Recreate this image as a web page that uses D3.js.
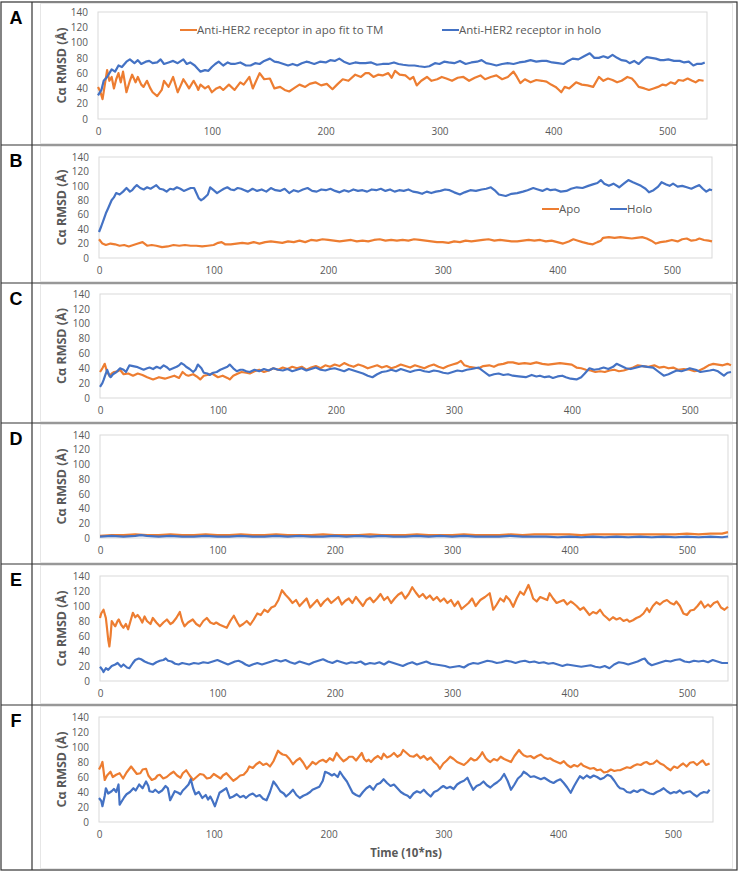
<!DOCTYPE html>
<html>
<head>
<meta charset="utf-8">
<script src="https://cdn.jsdelivr.net/npm/d3@7"></script>
<style>
  body { margin: 0; background: #fff; }
  text { font-family: "Open Sans", "Liberation Sans", sans-serif; }
</style>
</head>
<body>
<script>
const width = 739;
const height = 872;

// time ticks and value ticks shared by all panels
const timeTicks = [0, 100, 200, 300, 400, 500];
const rmsdTicks = [0, 20, 40, 60, 80, 100, 120, 140];

// [time (10*ns), Ca RMSD]
const aApo = [[0,42],[2,36],[4,26],[6,45],[8,64],[10,50],[12,55],[14,40],[16,52],[18,60],[20,48],[22,62],[25,35],[28,50],[30,58],[33,48],[35,55],[38,45],[40,42],[43,50],[46,40],[48,35],[52,30],[56,38],[58,50],[62,42],[66,55],[70,35],[73,45],[75,52],[78,45],[80,40],[84,50],[87,42],[88,38],[90,45],[94,40],[97,43],[100,35],[104,40],[107,42],[110,38],[115,45],[120,38],[125,48],[128,45],[133,55],[136,40],[142,60],[146,52],[151,53],[155,40],[160,42],[164,38],[168,36],[172,40],[177,45],[182,42],[186,46],[191,48],[196,44],[201,46],[206,39],[210,45],[215,52],[220,50],[226,58],[231,55],[235,60],[238,60],[242,55],[246,58],[250,57],[255,60],[258,54],[261,63],[265,58],[270,57],[274,52],[277,55],[280,44],[284,50],[289,55],[293,50],[298,52],[302,55],[306,53],[311,50],[316,54],[321,55],[326,50],[331,54],[336,57],[340,52],[345,55],[350,57],[355,52],[360,55],[365,62],[368,55],[371,47],[375,52],[380,48],[385,51],[390,50],[394,49],[398,45],[402,42],[405,38],[407,35],[410,42],[414,40],[417,44],[420,48],[425,45],[430,44],[435,42],[440,55],[444,50],[448,53],[452,51],[456,48],[460,50],[465,55],[469,53],[472,48],[475,42],[480,40],[484,38],[488,40],[492,42],[496,45],[499,44],[503,48],[507,46],[510,51],[514,50],[518,53],[522,50],[525,48],[528,51],[532,50]];
const aHolo = [[0,31],[3,38],[5,50],[8,55],[12,65],[15,62],[18,70],[21,68],[25,75],[28,78],[32,73],[35,77],[38,72],[42,75],[45,76],[48,73],[52,74],[55,78],[58,72],[62,74],[66,76],[70,73],[75,78],[78,72],[81,74],[85,70],[88,65],[90,62],[94,64],[97,63],[100,68],[103,72],[106,75],[110,70],[114,74],[117,72],[120,72],[125,74],[130,70],[134,70],[138,73],[142,72],[146,76],[151,79],[155,75],[159,74],[163,72],[167,70],[171,72],[175,70],[179,73],[183,75],[186,74],[190,72],[195,75],[200,74],[204,77],[208,76],[212,79],[216,75],[221,72],[226,74],[230,73],[235,73],[240,74],[245,71],[250,72],[255,72],[260,74],[264,72],[268,71],[273,70],[278,70],[282,69],[287,68],[291,69],[296,73],[300,72],[304,75],[308,74],[313,73],[318,76],[323,72],[328,74],[333,75],[337,77],[341,73],[345,72],[350,70],[355,72],[360,73],[365,72],[370,74],[375,75],[380,77],[385,75],[390,76],[394,76],[399,74],[404,73],[409,72],[413,76],[417,79],[422,78],[427,82],[432,86],[436,80],[440,80],[444,82],[448,80],[452,84],[456,80],[460,77],[464,76],[467,73],[471,76],[475,72],[479,78],[482,81],[486,80],[490,79],[494,77],[497,77],[501,78],[506,76],[511,76],[515,74],[519,75],[523,70],[526,72],[530,72],[533,74]];

const bApo = [[0,26],[3,20],[6,18],[10,20],[14,19],[18,17],[22,18],[26,16],[30,18],[34,20],[38,22],[42,17],[46,18],[50,17],[55,15],[60,16],[65,18],[70,17],[75,18],[80,17],[85,17],[90,16],[95,17],[100,18],[104,21],[107,22],[110,19],[115,19],[120,20],[125,21],[130,20],[135,22],[140,20],[145,22],[150,23],[155,22],[160,21],[165,23],[170,22],[175,24],[180,22],[185,25],[190,24],[195,26],[200,25],[205,24],[210,23],[215,24],[220,25],[225,23],[230,24],[235,23],[240,25],[245,26],[250,24],[255,25],[260,24],[265,25],[270,24],[275,26],[280,25],[285,24],[290,23],[295,22],[300,22],[305,21],[310,23],[315,22],[320,24],[325,23],[330,24],[335,25],[340,26],[345,24],[350,25],[355,24],[360,23],[365,23],[370,24],[375,25],[380,24],[385,25],[390,23],[395,24],[400,22],[405,20],[410,23],[414,26],[418,24],[422,22],[427,20],[431,19],[435,22],[438,24],[440,28],[445,29],[450,28],[455,29],[460,28],[465,27],[469,28],[474,29],[478,27],[482,24],[486,20],[490,22],[495,23],[500,25],[505,23],[509,26],[513,27],[517,24],[521,25],[524,27],[528,25],[532,24],[535,23]];
const bHolo = [[0,36],[2,44],[4,53],[6,62],[8,69],[11,80],[13,84],[15,90],[18,88],[21,92],[24,97],[27,92],[29,94],[31,98],[33,101],[36,97],[39,95],[42,98],[45,96],[48,99],[50,101],[53,96],[56,95],[59,92],[62,96],[65,95],[68,98],[71,96],[74,93],[77,95],[80,97],[83,97],[85,90],[87,83],[89,80],[91,82],[93,85],[95,88],[97,98],[100,94],[103,90],[106,93],[109,96],[112,98],[115,95],[118,94],[121,97],[124,96],[127,94],[130,92],[134,96],[138,93],[142,95],[146,92],[150,97],[154,94],[158,93],[162,96],[166,90],[170,94],[174,92],[178,95],[182,97],[186,93],[190,92],[194,95],[198,94],[202,96],[206,93],[210,91],[214,94],[218,92],[222,95],[226,93],[230,94],[234,92],[238,95],[242,94],[246,96],[250,93],[254,95],[258,92],[262,94],[266,93],[270,95],[274,92],[278,91],[282,89],[286,92],[290,90],[294,92],[298,93],[302,95],[306,94],[310,91],[315,88],[319,91],[324,94],[329,93],[334,95],[338,96],[342,98],[346,93],[349,88],[352,87],[355,86],[360,89],[365,90],[370,92],[374,94],[379,97],[383,95],[387,93],[391,96],[394,94],[398,95],[403,92],[408,93],[412,96],[417,98],[422,97],[427,100],[431,102],[435,104],[438,108],[441,103],[445,100],[449,103],[454,98],[458,103],[462,108],[466,105],[469,103],[473,100],[477,96],[480,91],[484,94],[488,99],[491,105],[495,102],[498,100],[501,103],[505,99],[509,100],[513,98],[517,96],[521,99],[524,101],[527,96],[530,92],[533,95],[535,94]];

const cApo = [[0,35],[2,40],[4,46],[6,35],[8,30],[10,33],[12,35],[15,36],[17,38],[20,32],[24,33],[28,30],[32,33],[36,31],[40,28],[45,25],[50,28],[55,26],[59,28],[63,30],[67,27],[70,35],[73,31],[75,30],[79,32],[82,29],[85,25],[88,30],[91,31],[95,33],[100,28],[104,30],[108,27],[110,25],[113,30],[117,33],[120,35],[124,34],[127,33],[131,36],[135,38],[139,35],[143,37],[147,40],[151,38],[155,41],[159,39],[163,42],[167,40],[171,42],[175,38],[179,41],[183,43],[187,40],[191,44],[195,42],[199,45],[203,43],[207,47],[211,44],[215,42],[219,45],[223,43],[227,40],[231,42],[235,44],[239,41],[243,43],[247,40],[251,42],[255,45],[259,43],[263,41],[267,44],[271,42],[275,40],[279,43],[283,45],[287,42],[291,40],[295,43],[299,45],[303,47],[306,50],[309,44],[313,42],[317,41],[321,40],[325,43],[330,44],[334,42],[338,45],[342,46],[346,48],[350,48],[355,46],[360,47],[365,46],[370,48],[375,46],[380,45],[385,46],[390,47],[395,46],[400,45],[404,41],[408,40],[412,38],[416,37],[420,35],[424,36],[428,35],[432,37],[436,38],[440,36],[444,37],[448,39],[452,41],[456,44],[460,43],[465,42],[470,44],[474,41],[478,42],[482,40],[486,41],[490,38],[495,39],[500,38],[504,36],[508,37],[512,40],[516,44],[520,46],[524,45],[528,44],[532,46],[535,44]];
const cHolo = [[0,15],[2,20],[3,24],[5,33],[6,38],[8,30],[9,28],[11,32],[14,35],[17,40],[20,38],[22,35],[25,44],[28,43],[31,42],[34,40],[37,38],[40,40],[42,41],[45,39],[48,42],[51,40],[54,44],[57,41],[59,38],[62,40],[65,42],[67,44],[69,47],[71,45],[73,42],[76,39],[79,35],[81,38],[83,45],[86,40],[88,34],[91,33],[93,31],[96,34],[99,35],[102,38],[105,40],[108,42],[110,45],[113,40],[116,36],[119,38],[121,38],[124,36],[127,35],[131,38],[135,36],[139,39],[143,37],[147,40],[151,38],[155,37],[159,39],[163,36],[167,38],[171,40],[175,37],[179,39],[183,41],[187,38],[191,37],[195,39],[199,40],[203,38],[207,36],[211,39],[215,37],[219,35],[223,33],[227,30],[231,28],[235,32],[239,35],[243,36],[247,38],[251,36],[255,39],[259,37],[263,35],[267,37],[271,38],[275,36],[279,35],[283,37],[287,36],[291,34],[295,33],[299,35],[303,37],[307,36],[311,38],[315,39],[318,40],[321,41],[325,36],[330,30],[334,32],[338,33],[342,31],[346,32],[350,30],[355,29],[361,28],[366,31],[370,29],[373,30],[377,28],[381,29],[384,27],[388,29],[392,30],[395,28],[399,26],[404,25],[408,28],[411,33],[415,40],[419,38],[423,39],[427,41],[431,39],[435,42],[438,46],[442,43],[446,40],[450,39],[455,41],[460,43],[464,42],[469,41],[473,36],[478,30],[482,32],[486,35],[489,37],[493,36],[497,38],[500,40],[505,38],[509,35],[513,36],[517,37],[520,38],[524,36],[529,30],[532,34],[535,35]];

const dApo = [[0,3],[10,4],[20,4],[30,5],[40,4],[50,4],[60,5],[70,4],[80,4],[90,5],[100,4],[110,4],[120,5],[130,4],[140,4],[150,5],[160,4],[170,4],[180,4],[190,5],[200,4],[210,4],[220,4],[230,5],[240,4],[250,4],[260,4],[270,5],[280,4],[290,4],[300,4],[310,5],[320,4],[330,4],[340,4],[350,5],[360,4],[370,5],[380,5],[390,5],[400,5],[410,4],[420,5],[430,5],[440,5],[450,5],[460,5],[470,5],[480,5],[490,5],[500,6],[510,5],[520,6],[530,6],[535,8]];
const dHolo = [[0,2],[10,3],[20,2],[30,3],[35,4],[40,3],[50,2],[60,3],[70,2],[80,2],[90,3],[100,2],[110,2],[120,3],[130,2],[140,2],[150,3],[160,2],[170,3],[180,2],[190,2],[200,3],[210,2],[220,3],[230,2],[240,3],[250,2],[260,2],[270,3],[280,2],[290,3],[300,2],[310,3],[320,2],[330,2],[340,2],[350,3],[360,2],[370,2],[380,2],[390,1],[400,2],[410,1],[420,2],[430,1],[440,2],[450,1],[460,2],[470,1],[480,2],[490,1],[500,2],[510,1],[520,2],[530,1],[535,2]];

const eApo = [[0,84],[1,90],[3,95],[5,84],[6,70],[7,55],[8,46],[9,60],[10,80],[12,75],[13,73],[15,80],[16,82],[18,75],[20,71],[22,76],[24,69],[26,80],[28,91],[30,85],[32,88],[34,84],[36,78],[38,86],[40,80],[43,76],[45,84],[48,78],[51,73],[54,78],[57,82],[60,76],[62,78],[65,84],[68,92],[70,80],[72,73],[75,78],[79,82],[82,76],[85,73],[88,80],[91,84],[94,78],[97,76],[99,78],[102,75],[105,73],[108,71],[111,80],[114,87],[117,78],[119,73],[122,76],[125,80],[128,75],[131,82],[134,90],[137,88],[140,95],[143,92],[146,98],[149,100],[152,108],[155,121],[158,115],[161,110],[164,104],[167,108],[170,100],[173,105],[176,110],[179,98],[182,103],[185,108],[188,100],[191,106],[194,110],[197,104],[200,108],[203,112],[206,102],[209,107],[212,110],[215,104],[218,112],[221,106],[224,100],[227,108],[230,111],[233,105],[236,110],[239,116],[242,108],[245,112],[248,104],[251,110],[254,115],[257,118],[260,110],[263,116],[266,125],[269,118],[272,112],[275,116],[278,110],[281,114],[284,108],[287,112],[290,106],[293,110],[296,104],[299,108],[302,100],[305,106],[308,96],[311,100],[314,104],[317,110],[320,100],[324,108],[328,112],[332,117],[335,95],[338,102],[341,110],[344,106],[346,113],[349,108],[352,99],[355,110],[358,119],[361,115],[365,128],[367,120],[369,110],[372,106],[375,112],[378,110],[381,108],[383,117],[386,110],[389,104],[392,106],[395,108],[398,102],[401,106],[403,104],[406,100],[409,95],[412,98],[415,92],[417,88],[420,92],[423,90],[426,95],[429,88],[432,84],[434,81],[437,85],[440,82],[443,84],[446,80],[449,82],[451,79],[454,81],[457,84],[460,86],[463,90],[466,97],[468,92],[471,100],[474,105],[477,102],[480,106],[483,108],[486,104],[489,102],[491,106],[494,100],[497,90],[500,88],[503,94],[506,95],[509,100],[512,106],[515,98],[518,102],[520,99],[523,104],[526,106],[529,98],[532,95],[535,99]];
const eHolo = [[0,19],[2,15],[3,12],[5,17],[7,15],[10,20],[13,22],[15,24],[18,19],[20,22],[23,18],[25,17],[28,24],[30,28],[33,30],[35,29],[38,26],[41,24],[43,23],[45,22],[48,25],[51,27],[54,28],[56,30],[58,27],[61,26],[64,23],[67,22],[70,24],[73,23],[76,22],[80,24],[84,23],[88,25],[92,24],[96,26],[100,28],[103,26],[106,24],[109,22],[112,24],[115,26],[118,27],[121,25],[124,22],[127,20],[130,22],[134,24],[138,22],[142,24],[146,26],[150,28],[154,26],[158,28],[162,25],[166,23],[170,26],[174,24],[178,22],[182,25],[186,27],[190,29],[194,26],[198,24],[202,27],[206,25],[210,23],[214,25],[218,24],[222,26],[226,22],[230,24],[234,23],[238,25],[242,22],[246,26],[250,24],[254,22],[258,20],[262,23],[266,25],[270,22],[274,24],[278,26],[282,23],[286,22],[290,21],[294,20],[298,18],[302,19],[306,20],[310,18],[314,22],[318,24],[322,23],[326,25],[330,27],[334,26],[338,24],[342,25],[346,27],[350,26],[354,24],[358,26],[362,27],[366,25],[370,26],[374,24],[378,25],[382,23],[386,24],[390,22],[394,20],[398,22],[402,21],[406,20],[410,19],[414,20],[418,21],[422,19],[426,18],[430,20],[434,17],[438,22],[442,25],[446,24],[450,22],[454,24],[458,26],[462,29],[464,30],[467,24],[470,21],[474,23],[478,25],[482,27],[486,26],[490,28],[494,29],[498,26],[502,25],[506,27],[510,26],[514,27],[518,25],[522,28],[526,26],[530,24],[535,24]];

const fApo = [[0,70],[2,76],[3,80],[5,56],[7,62],[10,67],[12,60],[15,63],[18,65],[21,58],[24,66],[26,70],[28,74],[30,70],[33,64],[36,65],[38,70],[41,71],[43,62],[46,56],[49,58],[51,62],[53,63],[56,58],[59,60],[62,64],[65,67],[68,62],[71,59],[73,65],[76,69],[79,62],[82,56],[85,60],[88,64],[91,63],[94,58],[97,59],[100,64],[103,61],[106,58],[108,62],[111,65],[114,60],[117,55],[120,58],[123,62],[126,63],[129,68],[131,74],[134,72],[137,77],[140,80],[143,76],[146,78],[149,74],[152,81],[154,88],[156,95],[158,92],[160,90],[163,89],[166,84],[169,77],[172,82],[175,85],[178,79],[181,71],[184,76],[186,80],[189,77],[192,81],[195,83],[198,80],[201,85],[204,82],[207,92],[210,86],[213,81],[216,84],[218,87],[221,87],[224,82],[227,88],[229,92],[231,84],[233,81],[235,83],[237,80],[240,85],[243,88],[246,84],[248,91],[251,86],[254,88],[257,92],[260,87],[263,90],[265,96],[268,92],[271,88],[274,87],[277,90],[280,85],[283,88],[286,83],[289,86],[292,80],[295,76],[297,71],[300,78],[303,82],[306,87],[309,84],[312,80],[315,78],[318,76],[321,80],[324,85],[327,82],[329,83],[332,88],[334,93],[337,85],[339,82],[341,80],[344,84],[347,82],[350,87],[353,84],[356,82],[359,80],[362,88],[364,92],[366,96],[368,92],[370,89],[373,87],[376,88],[379,85],[382,88],[385,90],[388,86],[391,84],[393,85],[396,82],[399,80],[402,78],[405,81],[408,76],[411,73],[414,76],[417,74],[420,78],[422,75],[425,73],[428,71],[431,72],[434,69],[437,70],[440,66],[443,67],[446,70],[449,68],[452,69],[454,69],[457,71],[460,73],[463,72],[466,75],[469,77],[472,76],[475,79],[477,80],[480,77],[483,78],[486,82],[489,78],[492,76],[495,72],[498,69],[501,74],[504,72],[507,76],[509,78],[512,74],[515,79],[518,80],[521,76],[524,80],[526,82],[529,76],[532,78]];
const fHolo = [[0,32],[2,28],[3,21],[5,35],[6,45],[8,38],[11,41],[13,44],[15,40],[17,50],[18,23],[20,28],[22,33],[24,37],[27,40],[30,45],[32,42],[35,50],[38,45],[41,54],[43,48],[44,41],[47,40],[49,43],[52,39],[55,42],[58,48],[60,45],[62,29],[64,35],[66,41],[69,39],[71,37],[73,42],[75,45],[78,50],[80,57],[82,45],[84,37],[87,40],[90,32],[93,36],[95,30],[97,34],[99,28],[101,21],[103,30],[105,39],[108,42],[111,45],[114,32],[117,34],[120,37],[123,33],[126,35],[128,32],[131,36],[134,38],[137,34],[140,36],[143,31],[146,29],[149,40],[152,54],[155,48],[158,41],[161,38],[163,34],[166,38],[169,43],[172,36],[175,32],[178,35],[181,37],[184,40],[186,43],[189,45],[192,47],[195,55],[197,67],[200,65],[203,62],[205,64],[208,60],[210,67],[213,60],[216,54],[219,45],[221,39],[224,36],[227,34],[230,40],[233,45],[236,48],[239,43],[242,50],[245,52],[248,57],[251,52],[254,48],[257,50],[260,45],[263,40],[266,37],[269,35],[271,32],[274,38],[277,41],[280,39],[283,43],[286,38],[289,34],[292,40],[295,42],[298,46],[300,48],[303,45],[306,47],[309,44],[312,50],[315,53],[318,55],[321,59],[323,52],[326,43],[329,48],[332,50],[335,54],[338,49],[341,46],[344,50],[347,53],[350,57],[353,64],[356,55],[359,43],[362,50],[365,58],[368,62],[370,67],[373,64],[376,60],[379,61],[382,59],[385,57],[388,59],[391,56],[393,54],[396,52],[399,55],[402,57],[405,52],[408,46],[411,39],[414,48],[417,56],[419,61],[422,58],[425,62],[428,59],[431,62],[434,60],[437,57],[440,59],[443,63],[446,61],[449,55],[452,48],[454,45],[457,44],[460,40],[463,39],[466,42],[469,40],[472,43],[474,43],[477,40],[480,38],[483,37],[486,40],[489,42],[492,45],[495,41],[498,38],[501,40],[503,39],[506,42],[509,38],[512,40],[515,41],[518,37],[521,34],[524,38],[527,40],[530,39],[532,43]];

const orange = "#ED7D31";
const blue = "#4472C4";

// panel frames (top/bottom of each row) and plot boxes, in pixels
const panels = [
  {label: "A", top: 2,   bottom: 145, left: 98,  right: 707, yTop: 12,  yBot: 119, apo: aApo, holo: aHolo},
  {label: "B", top: 145, bottom: 283, left: 99,  right: 712, yTop: 157, yBot: 258, apo: bApo, holo: bHolo},
  {label: "C", top: 283, bottom: 423, left: 100, right: 731, yTop: 294, yBot: 398, apo: cApo, holo: cHolo},
  {label: "D", top: 423, bottom: 564, left: 100, right: 728, yTop: 435, yBot: 538, apo: dApo, holo: dHolo},
  {label: "E", top: 564, bottom: 705, left: 100, right: 728, yTop: 576, yBot: 681, apo: eApo, holo: eHolo},
  {label: "F", top: 705, bottom: 870, left: 99,  right: 713, yTop: 717, yBot: 822, apo: fApo, holo: fHolo}
];

const svg = d3.select("body").append("svg")
    .attr("width", width)
    .attr("height", height);

svg.append("rect")
    .attr("width", width).attr("height", height)
    .attr("fill", "#fff");

panels.forEach(p => {
    const g = svg.append("g");

    // faint chart-area box
    g.append("rect")
        .attr("x", 40.5).attr("y", p.top + 1.5)
        .attr("width", 692).attr("height", p.bottom - p.top - 3)
        .attr("fill", "none")
        .attr("stroke", "#e6e6e6");

    const x = d3.scaleLinear().domain([0, 535]).range([p.left, p.right]);
    const y = d3.scaleLinear().domain([0, 140]).range([p.yBot, p.yTop]);

    // plot area
    g.append("rect")
        .attr("x", p.left).attr("y", p.yTop)
        .attr("width", p.right - p.left).attr("height", p.yBot - p.yTop)
        .attr("fill", "none")
        .attr("stroke", "#d9d9d9");

    const xAxis = g.append("g")
        .attr("transform", `translate(0,${p.yBot})`)
        .call(d3.axisBottom(x).tickValues(timeTicks).tickSize(0).tickPadding(9));
    const yAxis = g.append("g")
        .attr("transform", `translate(${p.left},0)`)
        .call(d3.axisLeft(y).tickValues(rmsdTicks).tickSize(0).tickPadding(10));
    [xAxis, yAxis].forEach(a => {
        a.select(".domain").remove();
        a.selectAll("text")
            .attr("fill", "#595959")
            .style("font-size", "10px")
            .style("font-family", "'Open Sans', sans-serif");
    });

    g.append("text")
        .attr("transform", `translate(66,${(p.yTop + p.yBot) / 2}) rotate(-90)`)
        .attr("text-anchor", "middle")
        .attr("fill", "#595959")
        .style("font-size", "12.5px")
        .style("font-weight", "bold")
        .text("Cα RMSD (Å)");

    const line = d3.line()
        .x(d => x(d[0]))
        .y(d => y(d[1]));

    g.append("path")
        .datum(p.apo)
        .attr("d", line)
        .attr("fill", "none")
        .attr("stroke", orange)
        .attr("stroke-width", 2.2)
        .attr("stroke-linejoin", "round");

    g.append("path")
        .datum(p.holo)
        .attr("d", line)
        .attr("fill", "none")
        .attr("stroke", blue)
        .attr("stroke-width", 2.2)
        .attr("stroke-linejoin", "round");

    g.append("text")
        .attr("x", 16).attr("y", p.top + 22)
        .attr("text-anchor", "middle")
        .style("font-size", "18px")
        .style("font-weight", "bold")
        .style("font-family", "'Liberation Sans', sans-serif")
        .text(p.label);

    // row separator
    if (p.label !== "F") {
        g.append("line")
            .attr("x1", 1).attr("x2", 737)
            .attr("y1", p.bottom).attr("y2", p.bottom)
            .attr("stroke", "#333").attr("stroke-width", 1.2);
    }
});

// legends
function legend(items, y) {
    items.forEach(it => {
        svg.append("line")
            .attr("x1", it.x).attr("x2", it.x + 17)
            .attr("y1", y).attr("y2", y)
            .attr("stroke", it.color).attr("stroke-width", 2);
        svg.append("text")
            .attr("x", it.x + 17).attr("y", y + 4)
            .attr("fill", "#595959")
            .style("font-size", "11.5px")
            .text(it.name);
    });
}
legend([
    {x: 180, color: orange, name: "Anti-HER2 receptor in apo fit to TM"},
    {x: 442, color: blue, name: "Anti-HER2 receptor in holo"}
], 30);
legend([
    {x: 542, color: orange, name: "Apo"},
    {x: 610, color: blue, name: "Holo"}
], 209);

// x title on the last panel
svg.append("text")
    .attr("x", 406).attr("y", 857)
    .attr("text-anchor", "middle")
    .attr("fill", "#595959")
    .style("font-size", "11.5px")
    .style("font-weight", "bold")
    .text("Time (10*ns)");

// outer frame and letter column
svg.append("rect")
    .attr("x", 1).attr("y", 2)
    .attr("width", 736).attr("height", 868)
    .attr("fill", "none")
    .attr("stroke", "#333").attr("stroke-width", 1.2);
svg.append("line")
    .attr("x1", 32).attr("x2", 32)
    .attr("y1", 2).attr("y2", 870)
    .attr("stroke", "#333").attr("stroke-width", 1.2);
</script>
</body>
</html>
